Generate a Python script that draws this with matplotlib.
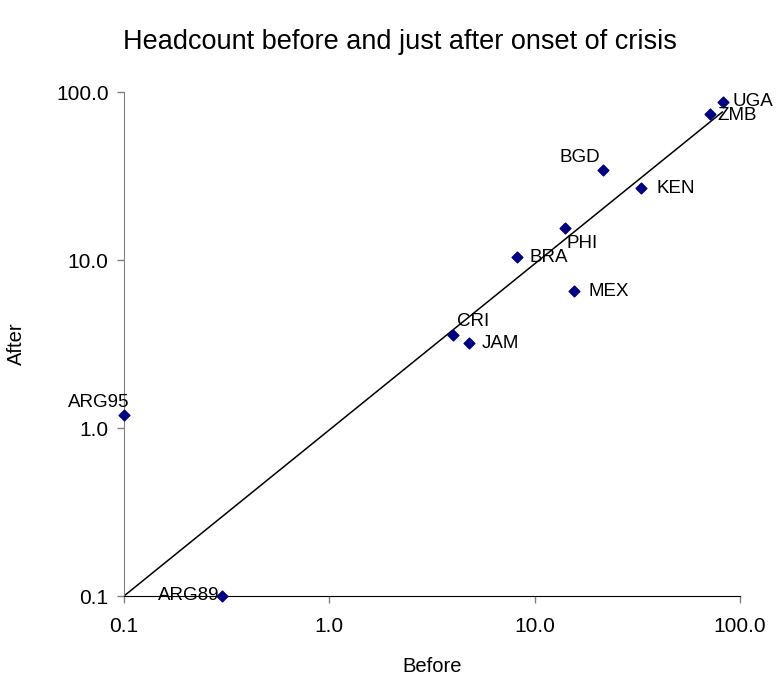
import numpy as np
import matplotlib.pyplot as plt

plt.rcParams['font.family'] = ['Liberation Sans', 'DejaVu Sans']

# 国家代码及危机前后的贫困人口比例
countries = ['UGA', 'ZMB', 'BGD', 'KEN', 'PHI', 'BRA', 'MEX', 'CRI', 'JAM', 'ARG95', 'ARG89']
before = [82.7, 71.5, 21.5, 33.0, 14.1, 8.2, 15.6, 4.0, 4.8, 0.1, 0.30]
after = [87.2, 74.0, 34.3, 26.8, 15.5, 10.4, 6.5, 3.6, 3.2, 1.2, 0.1]

# 参考线
line_x = [0.1, 82.0]
line_y = [0.1, 76.0]

# 标签偏移 (像素点)
offsets = {'UGA': (7, 0, 'left', 'center'), 'ZMB': (5, -1, 'left', 'center'),
           'BGD': (-2, 3, 'right', 'bottom'), 'KEN': (11, 0, 'left', 'center'),
           'PHI': (1, -5, 'left', 'top'), 'BRA': (9, 0, 'left', 'center'),
           'MEX': (10, 0, 'left', 'center'), 'CRI': (3, 3, 'left', 'bottom'),
           'JAM': (9, 0, 'left', 'center'), 'ARG95': (4, 3, 'right', 'bottom'),
           'ARG89': (-2, 0, 'right', 'center')}

fig = plt.figure(figsize=(7.81, 6.85), dpi=100)
ax = fig.add_axes([124/781, 89/685, 616/781, 504/685])

ax.plot(line_x, line_y, color='black', linewidth=1.1, zorder=2)
ax.scatter(before, after, marker='D', s=30, color='#000080', zorder=3, clip_on=False)

for c, x, y in zip(countries, before, after):
    dx, dy, ha, va = offsets[c]
    ax.annotate(c, (x, y), xytext=(dx, dy), textcoords='offset points',
                ha=ha, va=va, fontsize=13.5, zorder=4)

ax.set_xscale('log')
ax.set_yscale('log')
ax.set_xlim(0.1, 100)
ax.set_ylim(0.1, 100)
ticks = [0.1, 1, 10, 100]
ax.set_xticks(ticks)
ax.set_yticks(ticks)
ax.set_xticklabels(['0.1', '1.0', '10.0', '100.0'])
ax.set_yticklabels(['0.1', '1.0', '10.0', '100.0'])
ax.minorticks_off()
ax.tick_params(axis='both', labelsize=15, color='#808080', length=5, width=1)
ax.tick_params(axis='x', pad=10)
ax.tick_params(axis='y', pad=6)

ax.spines['top'].set_visible(False)
ax.spines['right'].set_visible(False)
ax.spines['left'].set_color('#808080')
ax.spines['bottom'].set_color('black')

ax.set_xlabel('Before', fontsize=14.5, labelpad=15)
ax.set_ylabel('After', fontsize=14.5, labelpad=22)
fig.text(0.512, 1 - 42/685, 'Headcount before and just after onset of crisis',
         fontsize=19.5, ha='center', va='center')

plt.savefig('out.png', dpi=100)
